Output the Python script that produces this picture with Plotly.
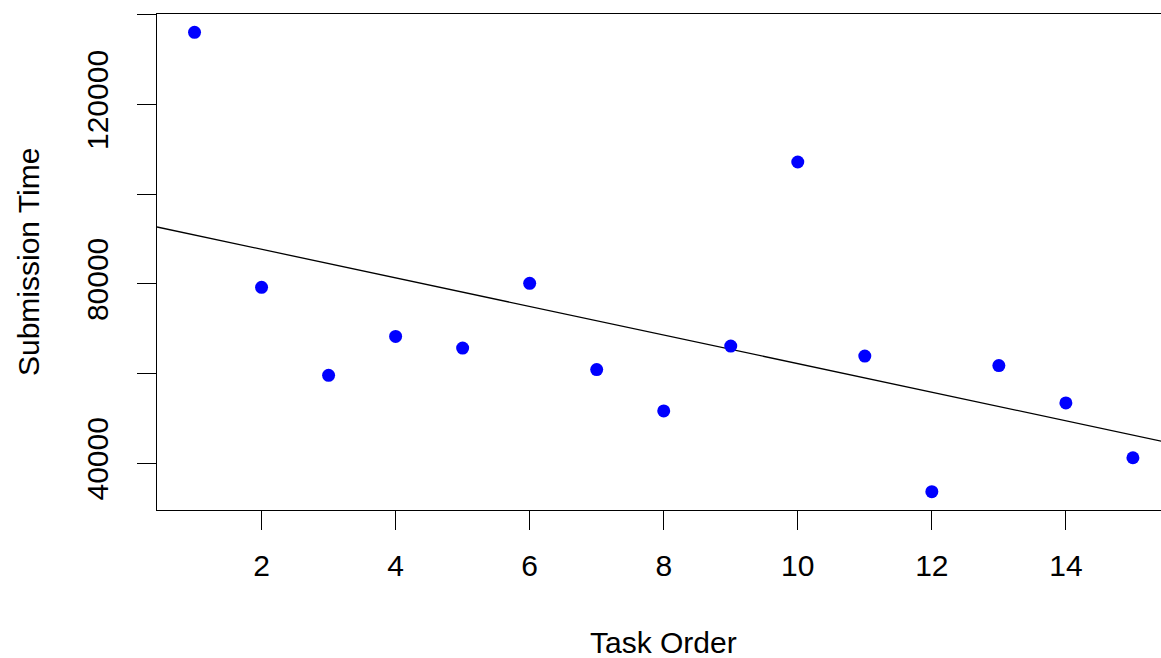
import numpy as np
import plotly.graph_objects as go

task_order = list(range(1, 16))
submission_time = [136070, 79240, 59620, 68290, 65690, 80130, 60890, 51690,
                   66130, 107170, 63910, 33690, 61780, 53470, 41240]

x_tickvals = [2, 4, 6, 8, 10, 12, 14]
x_ticktext = ["2", "4", "6", "8", "10", "12", "14"]
y_tickvals = [40000, 60000, 80000, 100000, 120000, 140000]
y_ticktext = ["40000", "", "80000", "", "120000", ""]

# R-style axis extension (4%)
xmin, xmax = min(task_order), max(task_order)
xpad = 0.04 * (xmax - xmin)
ymin, ymax = min(submission_time), max(submission_time)
ypad = 0.04 * (ymax - ymin)
x_full = [xmin - xpad, xmax + xpad]

W, H = 1161, 658
left, top, bottom = 156.5, 14, 148
plot_w = W - left
PX_PER_X = 67.06
x_range = [x_full[0], x_full[0] + plot_w / PX_PER_X]
y_range = [ymin - ypad, ymax + ypad]

slope, intercept = np.polyfit(task_order, submission_time, 1)
lx = np.array(x_full)
ly = intercept + slope * lx

FONT = "Liberation Sans, Arial, sans-serif"

fig = go.Figure()
fig.add_trace(go.Scatter(x=lx, y=ly, mode="lines",
                         line=dict(color="black", width=1.3),
                         hoverinfo="skip", showlegend=False))
fig.add_trace(go.Scatter(x=task_order, y=submission_time, mode="markers",
                         marker=dict(color="#0000FF", size=13, line=dict(width=0)),
                         showlegend=False))

axis_common = dict(showgrid=False, zeroline=False, showline=True, linecolor="black",
                   linewidth=1.3, ticks="outside", ticklen=19, tickwidth=1.3,
                   tickcolor="black", tickfont=dict(family=FONT, size=30, color="black"))

fig.update_xaxes(range=x_range, tickvals=x_tickvals, ticktext=x_ticktext,
                 mirror=True, ticklabelstandoff=10, **axis_common)
fig.update_yaxes(range=y_range, tickvals=y_tickvals, ticktext=y_ticktext,
                 tickangle=-90, mirror=False, ticklabelstandoff=17, **axis_common)

fig.add_annotation(text="Task Order", xref="x", yref="paper",
                   x=(x_full[0] + x_full[1]) / 2, y=-0.268, xanchor="center",
                   yanchor="middle", showarrow=False,
                   font=dict(family=FONT, size=30, color="black"))
fig.add_annotation(text="Submission Time", xref="paper", yref="paper",
                   x=(27.5 - left) / plot_w, y=0.5, xanchor="center",
                   yanchor="middle", textangle=-90, showarrow=False,
                   font=dict(family=FONT, size=30, color="black"))

fig.update_layout(width=W, height=H, margin=dict(l=left, r=0, t=top, b=bottom),
                  plot_bgcolor="white", paper_bgcolor="white")

fig.write_html(
    "out.html",
    config={"displayModeBar": False},
    post_script=("document.body.style.margin='0';"
                 "document.body.style.overflow='hidden';"
                 "document.documentElement.style.overflow='hidden';"),
)
